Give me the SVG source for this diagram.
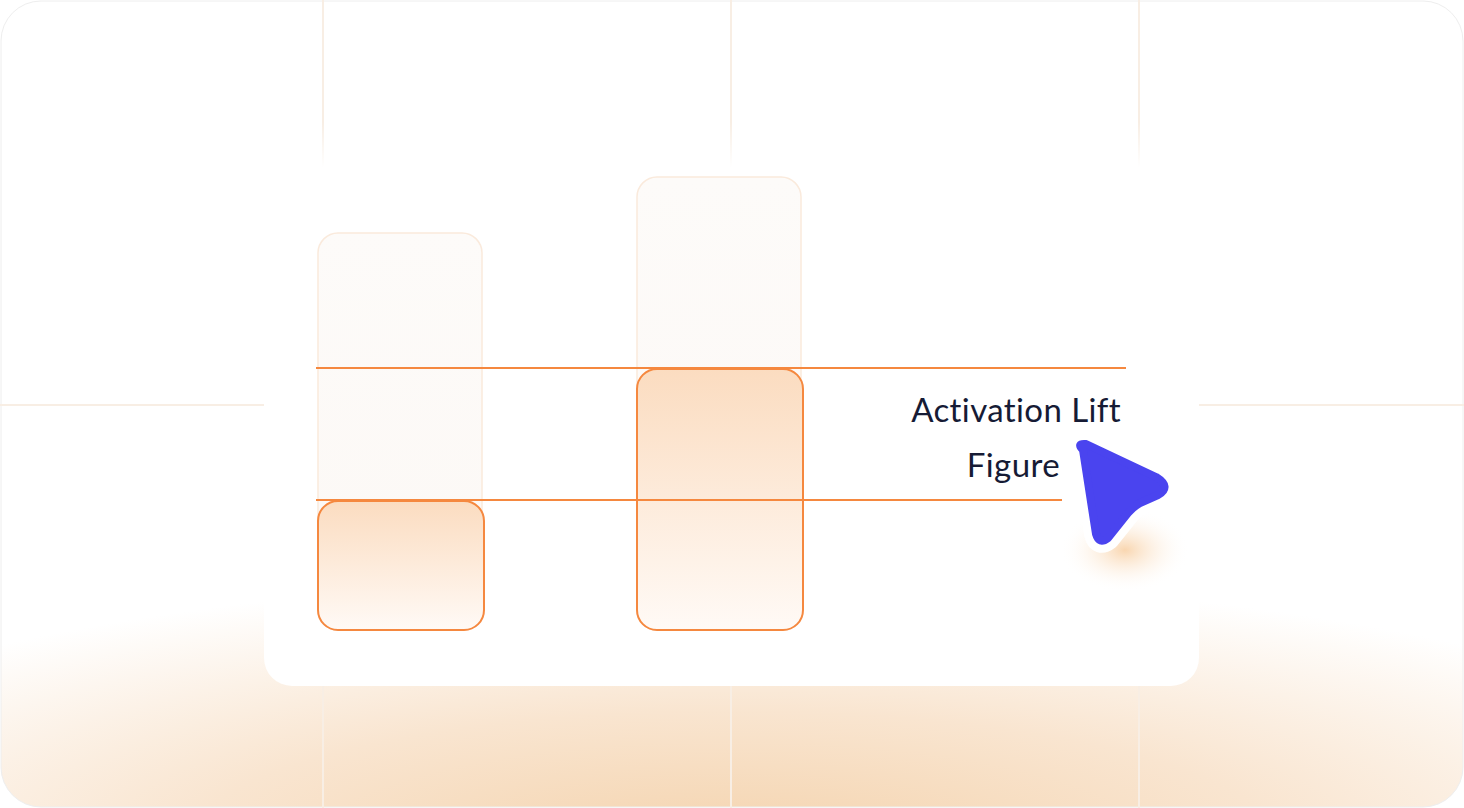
<svg xmlns="http://www.w3.org/2000/svg" width="1464" height="808" viewBox="0 0 1464 808">
<defs>
<radialGradient id="bg" cx="0.5" cy="1.05" r="0.75" gradientTransform="translate(0.5 1.05) scale(1 0.45) translate(-0.5 -1.05)">
<stop offset="0" stop-color="#f4d3ad"/><stop offset="0.5" stop-color="#f9e5d0"/><stop offset="1" stop-color="#ffffff"/>
</radialGradient>
<linearGradient id="bar" x1="0" y1="0" x2="0" y2="1">
<stop offset="0" stop-color="#fbdcc0"/><stop offset="1" stop-color="#fffaf6"/>
</linearGradient>
<linearGradient id="faint" x1="0" y1="0" x2="0" y2="1">
<stop offset="0" stop-color="#fdfbf9"/><stop offset="1" stop-color="#fcf8f5"/>
</linearGradient>
<radialGradient id="glow" cx="0.5" cy="0.5" r="0.5">
<stop offset="0" stop-color="#f9d6b0"/><stop offset="1" stop-color="#ffffff" stop-opacity="0"/>
</radialGradient>
<linearGradient id="cardfade" x1="0" y1="0" x2="0" y2="1">
<stop offset="0" stop-color="#ffffff" stop-opacity="0"/><stop offset="0.08" stop-color="#ffffff"/>
</linearGradient>
<style>
.grid{stroke:#f8eee4;stroke-width:2;fill:none}
.faint{fill:url(#faint);stroke:#faeadc;stroke-width:1.5}
.bar{fill:url(#bar);stroke:#f5883f;stroke-width:2}
.ln{stroke:#f5883f;stroke-width:2}
.t{font-family:Lato,Inter,"Liberation Sans",sans-serif;font-size:33px;fill:#161b35;text-anchor:end;letter-spacing:0.4px}
</style>
</defs>
<rect x="1" y="1" width="1462" height="806" rx="40" fill="url(#bg)" stroke="#eeeeee"/>
<g id="grid">
<line class="grid" x1="323" y1="0" x2="323" y2="808"/>
<line class="grid" x1="731" y1="0" x2="731" y2="808"/>
<line class="grid" x1="1139" y1="0" x2="1139" y2="808"/>
<line class="grid" x1="0" y1="405" x2="1464" y2="405" stroke="#fbe6d3"/>
</g>
<rect id="card" x="264" y="122" width="935" height="564" rx="28" fill="url(#cardfade)"/>
<g id="bar1">
<rect class="faint" x="318" y="233" width="164" height="397" rx="20"/>
<rect class="bar" x="318" y="501" width="166" height="129" rx="20"/>
</g>
<g id="bar2">
<rect class="faint" x="637" y="177" width="164" height="453" rx="20"/>
<rect class="bar" x="637" y="369" width="166" height="261" rx="20"/>
</g>
<g id="connectors">
<line class="ln" x1="316" y1="368" x2="1126" y2="368"/>
<line class="ln" x1="316" y1="500" x2="1062" y2="500"/>
</g>
<g id="label">
<text class="t" x="1121" y="422">Activation Lift</text>
<text class="t" x="1060" y="477">Figure</text>
</g>
<g id="cursor">
<ellipse cx="1125" cy="550" rx="65" ry="42" fill="url(#glow)"/>
<path d="M1083,450 Q1076,443 1086,444 L1156,477 Q1172,487 1158,495 L1140,503 Q1133,507 1128,513 L1108,538 Q1099,545 1096,534 Z" fill="#4a44ef" stroke="#ffffff" stroke-width="24" stroke-linejoin="round"/>
<path d="M1083,450 Q1076,443 1086,444 L1156,477 Q1172,487 1158,495 L1140,503 Q1133,507 1128,513 L1108,538 Q1099,545 1096,534 Z" fill="#4a44ef" stroke="#4a44ef" stroke-width="8" stroke-linejoin="round"/>
</g>
</svg>
